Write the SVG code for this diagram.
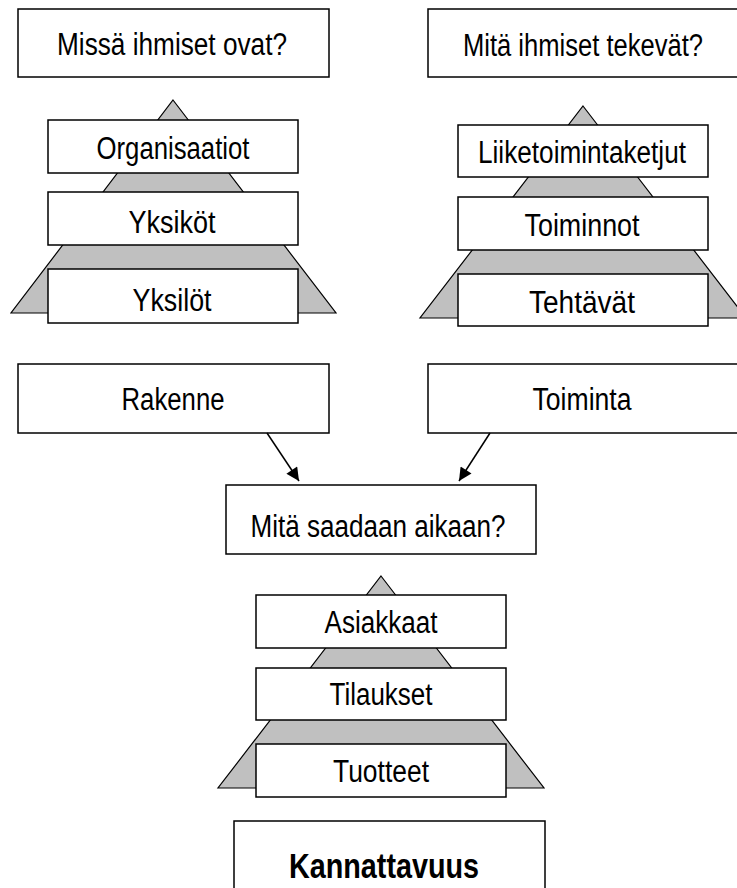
<svg xmlns="http://www.w3.org/2000/svg" width="737" height="888" viewBox="0 0 737 888">
  <style>
    .box { fill: #ffffff; stroke: #000000; stroke-width: 1.5; }
    .pyr { fill: #c0c0c0; stroke: #000000; stroke-width: 1.2; }
    .lbl { font-family: "Liberation Sans", Arial, sans-serif; font-size: 31px; fill: #000000; text-anchor: middle; }
    .big { font-family: "Liberation Sans", Arial, sans-serif; font-size: 35px; font-weight: bold; fill: #000000; text-anchor: middle; }
    .conn { stroke: #000000; stroke-width: 1.5; fill: none; }
  </style>
  <defs>
    <marker id="arrow" viewBox="0 0 10 10" refX="10" refY="5" markerWidth="16" markerHeight="13" markerUnits="userSpaceOnUse" orient="auto">
      <path d="M0,0 L10,5 L0,10 Z" fill="#000000"/>
    </marker>
  </defs>
  <rect width="737" height="888" fill="#ffffff"/>

  <!-- question: where are people -->
  <g id="q-missa">
    <rect class="box" x="18" y="9" width="311" height="68"/>
    <text class="lbl" x="172" y="55" textLength="230" lengthAdjust="spacingAndGlyphs">Missä ihmiset ovat?</text>
  </g>

  <!-- question: what do people do -->
  <g id="q-mita-tekevat">
    <rect class="box" x="428" y="9" width="320" height="68"/>
    <text class="lbl" x="583" y="56" textLength="240" lengthAdjust="spacingAndGlyphs">Mitä ihmiset tekevät?</text>
  </g>

  <!-- structure pyramid -->
  <g id="pyramid-rakenne">
    <polygon class="pyr" points="173,100 336,313 11,313"/>
    <g id="organisaatiot">
      <rect class="box" x="48" y="120" width="250" height="53"/>
      <text class="lbl" x="173" y="159" textLength="153" lengthAdjust="spacingAndGlyphs">Organisaatiot</text>
    </g>
    <g id="yksikot">
      <rect class="box" x="48" y="192" width="250" height="53"/>
      <text class="lbl" x="172" y="233" textLength="87" lengthAdjust="spacingAndGlyphs">Yksiköt</text>
    </g>
    <g id="yksilot">
      <rect class="box" x="48" y="269" width="250" height="54"/>
      <text class="lbl" x="172" y="311" textLength="79" lengthAdjust="spacingAndGlyphs">Yksilöt</text>
    </g>
  </g>

  <!-- activity pyramid -->
  <g id="pyramid-toiminta">
    <polygon class="pyr" points="583,106 746,318 420,318"/>
    <g id="liiketoimintaketjut">
      <rect class="box" x="458" y="125" width="250" height="52"/>
      <text class="lbl" x="582" y="163" textLength="208" lengthAdjust="spacingAndGlyphs">Liiketoimintaketjut</text>
    </g>
    <g id="toiminnot">
      <rect class="box" x="458" y="197" width="250" height="53"/>
      <text class="lbl" x="582" y="236" textLength="115" lengthAdjust="spacingAndGlyphs">Toiminnot</text>
    </g>
    <g id="tehtavat">
      <rect class="box" x="458" y="274" width="250" height="52"/>
      <text class="lbl" x="582" y="313" textLength="106" lengthAdjust="spacingAndGlyphs">Tehtävät</text>
    </g>
  </g>

  <g id="rakenne">
    <rect class="box" x="18" y="364" width="311" height="69"/>
    <text class="lbl" x="173" y="410" textLength="103" lengthAdjust="spacingAndGlyphs">Rakenne</text>
  </g>

  <g id="toiminta">
    <rect class="box" x="428" y="364" width="320" height="69"/>
    <text class="lbl" x="582" y="410" textLength="99" lengthAdjust="spacingAndGlyphs">Toiminta</text>
  </g>

  <g id="q-saadaan">
    <rect class="box" x="226" y="485" width="310" height="69"/>
    <text class="lbl" x="378" y="537" textLength="255" lengthAdjust="spacingAndGlyphs">Mitä saadaan aikaan?</text>
  </g>

  <!-- results pyramid -->
  <g id="pyramid-tulos">
    <polygon class="pyr" points="381,576 544,788 218,788"/>
    <g id="asiakkaat">
      <rect class="box" x="256" y="595" width="250" height="53"/>
      <text class="lbl" x="381" y="633" textLength="113" lengthAdjust="spacingAndGlyphs">Asiakkaat</text>
    </g>
    <g id="tilaukset">
      <rect class="box" x="256" y="668" width="250" height="52"/>
      <text class="lbl" x="381" y="705" textLength="103" lengthAdjust="spacingAndGlyphs">Tilaukset</text>
    </g>
    <g id="tuotteet">
      <rect class="box" x="256" y="744" width="250" height="53"/>
      <text class="lbl" x="381" y="782" textLength="96" lengthAdjust="spacingAndGlyphs">Tuotteet</text>
    </g>
  </g>

  <g id="kannattavuus">
    <rect class="box" x="234" y="821" width="311" height="75"/>
    <text class="big" x="384" y="878" textLength="190" lengthAdjust="spacingAndGlyphs">Kannattavuus</text>
  </g>

  <!-- connectors -->
  <g id="connectors">
    <line class="conn" x1="267" y1="433" x2="299" y2="481" marker-end="url(#arrow)"/>
    <line class="conn" x1="490" y1="433" x2="459" y2="481" marker-end="url(#arrow)"/>
  </g>
</svg>
